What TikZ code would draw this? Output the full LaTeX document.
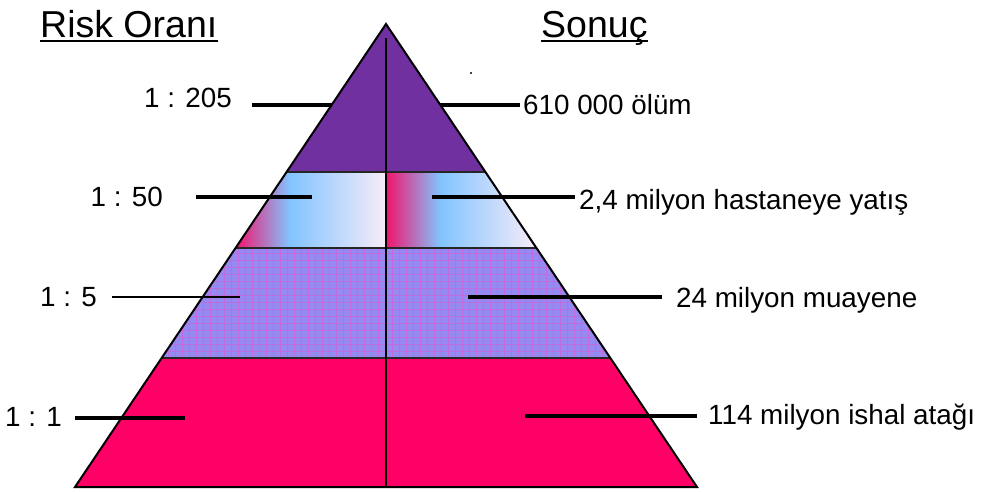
\documentclass[tikz,border=0pt]{standalone}
\usepackage{fontspec}
\setmainfont{Liberation Sans}
\usepackage{xcolor}
\usepackage{tikz}
\usetikzlibrary{patterns.meta}

\definecolor{toppurple}{RGB}{112,48,160}
\definecolor{basered}{RGB}{255,0,102}
\definecolor{midlilac}{RGB}{150,138,242}
\definecolor{dotpink}{RGB}{205,100,215}
\definecolor{bandpink}{RGB}{242,20,110}
\definecolor{bandblue}{RGB}{130,196,255}
\definecolor{bandpale}{RGB}{248,236,248}
\pgfdeclarehorizontalshading{bandshade}{100bp}{color(0bp)=(bandpink); color(25bp)=(bandpink); color(43bp)=(bandblue); color(75bp)=(bandpale); color(100bp)=(bandpale)}

\tikzset{
  leader/.style={line width=4pt},
  sepline/.style={line width=1.5pt, black!85},
  titletext/.style={font=\fontsize{37.5}{40}\selectfont},
}

\begin{document}
\begin{tikzpicture}[x=1pt, y=-1pt, every node/.style={inner sep=0pt, font=\fontsize{27.8}{30}\selectfont}]
    \useasboundingbox (0,0) rectangle (984,491);

    % Pyramid corners and band edges
    \coordinate (A) at (386,24);
    \coordinate (BL) at (75,487);
    \coordinate (BR) at (697,487);
    \coordinate (C) at (386,487);

    % Bottom band
    \fill[basered] (161.6,358) -- (610.4,358) -- (BR) -- (BL) -- cycle;

    % Textured band
    \fill[midlilac, postaction={pattern={Hatch[distance=7pt, angle=0, line width=1pt]}, pattern color=dotpink!75!midlilac}]
    (235.5,248) -- (536.5,248) -- (610.4,358) -- (161.6,358) -- cycle;

    % Shaded band (two halves)
    \shade[shading=bandshade, shading angle=0]
    (286.6,172) -- (386,172) -- (386,248) -- (235.5,248) -- cycle;
    \shade[shading=bandshade, shading angle=0]
    (386,172) -- (485.4,172) -- (536.5,248) -- (386,248) -- cycle;

    % Top
    \fill[toppurple] (A) -- (485.4,172) -- (286.6,172) -- cycle;

    % Band separators
    \draw[sepline] (286.6,172) -- (485.4,172);
    \draw[sepline] (235.5,248) -- (536.5,248);
    \draw[sepline] (161.6,358) -- (610.4,358);

    % Outline and middle line
    \draw[line width=2pt, line join=miter] (A) -- (BR) -- (BL) -- cycle;
    \draw[line width=1.5pt] (386,38) -- (C);
    \fill (471,73) circle (1.2);

    % Titles
    \node[titletext, anchor=base west] (risk) at (40,37) {Risk Oranı};
    \node[titletext, anchor=base west] (sonuc) at (541,37) {Sonuç};
    \draw[line width=2pt] ([yshift=-4]risk.base west) -- ([yshift=-4]risk.base east);
    \draw[line width=2pt] ([yshift=-4]sonuc.base west) -- ([yshift=-4]sonuc.base east);

    % Leader line ends
    \coordinate (la1) at (252,105); \coordinate (lb1) at (332,105);
    \coordinate (ra1) at (440,105); \coordinate (rb1) at (520,105);
    \coordinate (la2) at (196,197); \coordinate (lb2) at (312,197);
    \coordinate (ra2) at (432,197); \coordinate (rb2) at (575,197);
    \coordinate (la3) at (112,297); \coordinate (lb3) at (240,297);
    \coordinate (ra3) at (468,297); \coordinate (rb3) at (662,297);
    \coordinate (la4) at (75,418); \coordinate (lb4) at (185,418);
    \coordinate (ra4) at (525,416); \coordinate (rb4) at (697,416);

    \draw[leader] (la1) -- (lb1);
    \draw[leader] (ra1) -- (rb1);
    \draw[leader] (la2) -- (lb2);
    \draw[leader] (ra2) -- (rb2);
    \draw[line width=2.2pt] (la3) -- (lb3);
    \draw[leader] (ra3) -- (rb3);
    \draw[leader] (la4) -- (lb4);
    \draw[leader] (ra4) -- (rb4);

    % Risk ratios
    \node[anchor=base east] (r1) at ([xshift=-20, yshift=-2]la1) {1 : 205};
    \node[anchor=base west] (s1) at ([xshift=3, yshift=-9]rb1) {610 000 ölüm};
    \node[anchor=base east] (r2) at ([xshift=-33, yshift=-9]la2) {1 : 50};
    \node[anchor=base west] (s2) at ([xshift=4, yshift=-12]rb2) {2,4 milyon hastaneye yatış};
    \node[anchor=base east] (r3) at ([xshift=-15, yshift=-9]la3) {1 : 5};
    \node[anchor=base west] (s3) at ([xshift=14, yshift=-10]rb3) {24 milyon muayene};
    \node[anchor=base east] (r4) at ([xshift=-13, yshift=-8]la4) {1 : 1};
    \node[anchor=base west] (s4) at ([xshift=11, yshift=-8]rb4) {114 milyon ishal atağı};
\end{tikzpicture}
\end{document}
